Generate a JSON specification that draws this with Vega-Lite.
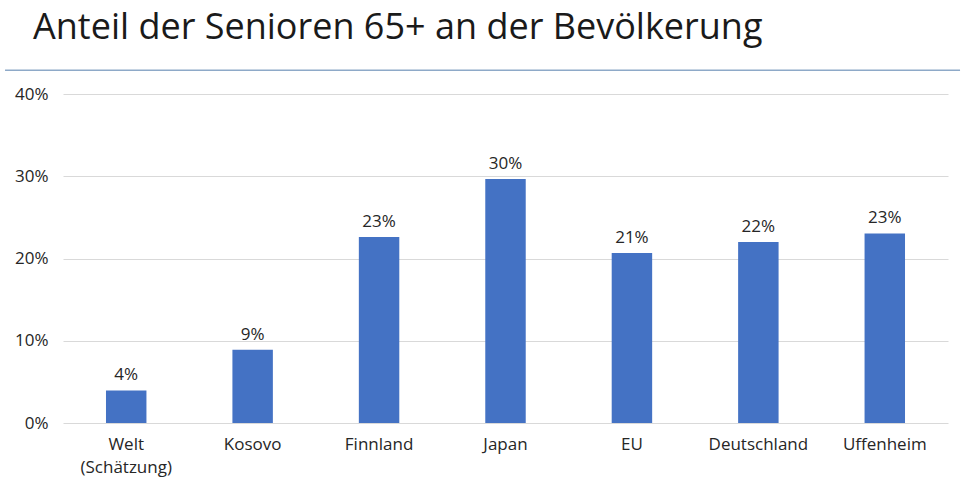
{
  "$schema": "https://vega.github.io/schema/vega-lite/v6.json",
  "autosize": "none",
  "width": 885,
  "height": 329,
  "padding": {"left": 63, "top": 94, "right": 32, "bottom": 59},
  "background": "white",
  "title": {
    "text": "Anteil der Senioren 65+ an der Bevölkerung",
    "anchor": "start",
    "frame": "group",
    "font": "Open Sans",
    "fontSize": 36,
    "fontWeight": "normal",
    "color": "#1a1a1a",
    "baseline": "alphabetic",
    "dx": -30,
    "offset": -6
  },
  "data": {
    "values": [
      {"land": "Welt (Schätzung)", "anteil": 0.0396},
      {"land": "Kosovo", "anteil": 0.0891},
      {"land": "Finnland", "anteil": 0.226},
      {"land": "Japan", "anteil": 0.2967},
      {"land": "EU", "anteil": 0.2067},
      {"land": "Deutschland", "anteil": 0.22},
      {"land": "Uffenheim", "anteil": 0.2305}
    ]
  },
  "layer": [
    {
      "encoding": {
        "x": {
          "field": "land",
          "type": "nominal",
          "sort": null,
          "scale": {"paddingInner": 0.68, "paddingOuter": 0.34},
          "axis": {
            "title": null,
            "labelAngle": 0,
            "labelFont": "Open Sans",
            "labelFontSize": 17,
            "labelColor": "#262626",
            "labelPadding": 13,
            "labelLineHeight": 23,
            "ticks": false,
            "domain": false,
            "labelExpr": "datum.value == 'Welt (Schätzung)' ? ['Welt', '(Schätzung)'] : datum.value"
          }
        },
        "y": {
          "field": "anteil",
          "type": "quantitative",
          "scale": {"domain": [0, 0.4], "nice": false},
          "axis": {
            "title": null,
            "format": ".0%",
            "values": [0, 0.1, 0.2, 0.3, 0.4],
            "labelFont": "Open Sans",
            "labelFontSize": 17,
            "labelColor": "#262626",
            "labelPadding": 15,
            "ticks": false,
            "domain": false,
            "grid": true,
            "gridColor": "#d9d9d9",
            "gridWidth": 1
          }
        }
      },
      "layer": [
        {"mark": {"type": "bar", "color": "#4472C4"}},
        {
          "mark": {"type": "text", "baseline": "bottom", "dy": -6, "font": "Open Sans", "fontSize": 17, "color": "#262626"},
          "encoding": {"text": {"field": "anteil", "format": ".0%"}}
        }
      ]
    },
    {
      "data": {"values": [{"linie": 0.429, "von": -0.0655, "bis": 1.0136}]},
      "mark": {"type": "rule", "color": "#8EA9C8", "strokeWidth": 1.5, "clip": false},
      "encoding": {
        "y": {"field": "linie", "type": "quantitative", "scale": {"domain": [0, 0.4], "nice": false}},
        "x": {"field": "von", "type": "quantitative", "scale": {"domain": [0, 1], "nice": false, "zero": false}, "axis": null},
        "x2": {"field": "bis"}
      }
    }
  ],
  "resolve": {"scale": {"x": "independent"}, "axis": {"x": "independent"}},
  "config": {"view": {"stroke": null}}
}
